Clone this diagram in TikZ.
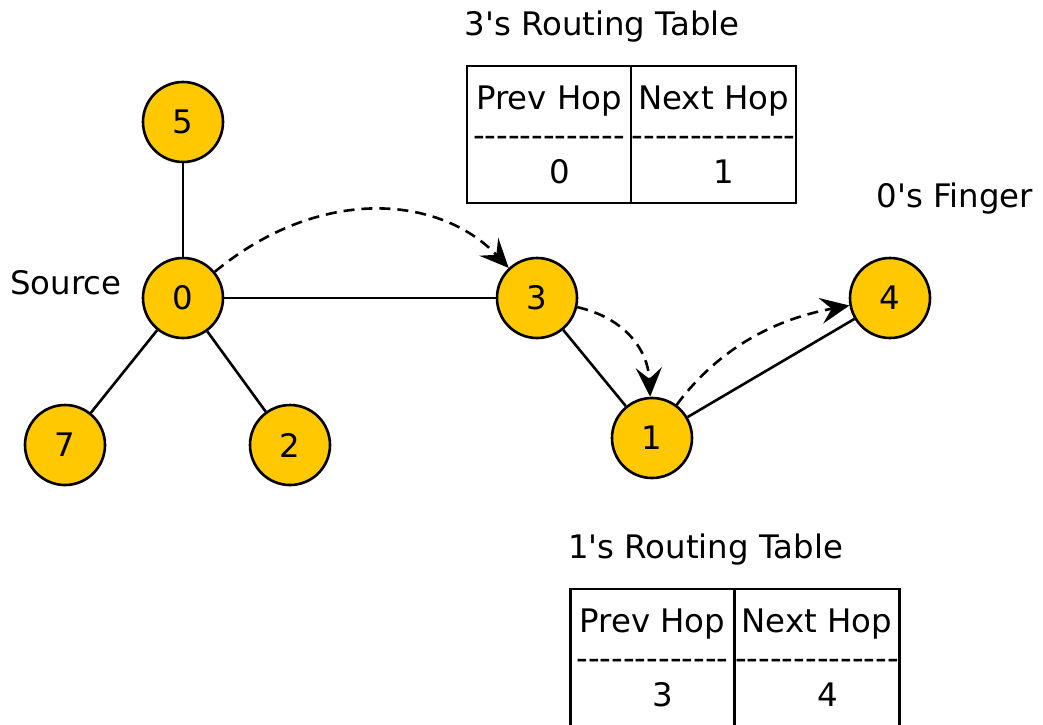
\documentclass[tikz,border=0pt]{standalone}
\usepackage{fontspec}
\setmainfont{DejaVu Sans}[Ligatures=TeXOff]
\usetikzlibrary{arrows.meta}
\definecolor{peergold}{RGB}{255,200,0}

\tikzset{
  peer/.style={circle, draw, line width=2.6pt, fill=peergold,
               minimum size=80pt, inner sep=0pt},
  link/.style={line width=2.6pt},
  route/.style={line width=2.6pt, dash pattern=on 11pt off 7pt,
                -{Stealth[length=29pt,width=26pt,inset=11pt]}},
  cell/.style={draw, line width=2.6pt, minimum width=164pt,
               minimum height=137pt, inner sep=0pt, outer sep=0pt,
               align=center},
}

\begin{document}
\begin{tikzpicture}[x=1pt, y=-1pt, font=\fontsize{32.4}{37}\selectfont]
  \useasboundingbox (0,0) rectangle (1043,724);

  % peers
  \node[peer] (n5) at (183,122) {5};
  \node[peer] (n0) at (183,298) {0};
  \node[peer] (n7) at (65,445)  {7};
  \node[peer] (n2) at (290,445) {2};
  \node[peer] (n3) at (537,298) {3};
  \node[peer] (n1) at (652,438) {1};
  \node[peer] (n4) at (890,298) {4};

  \node (source) at (66,283)  {Source};
  \node (finger) at (955,199) {0's Finger};

  % overlay links
  \draw[link] (n5) -- (n0);
  \draw[link] (n0) -- (n7);
  \draw[link] (n0) -- (n2);
  \draw[link] (n0) -- (n3);
  \draw[link] (n3) -- (n1);
  \draw[link] (n1) -- (n4);

  % path of the lookup
  \draw[route] (n0) .. controls (320,185) and (440,195) .. (n3);
  \draw[route] (n3) .. controls (625,318) and (648,350) .. (n1);
  \draw[route] (n1) .. controls (710,360) and (760,322) .. (n4);

  % routing tables
  \node (title3) at (602,27) {3's Routing Table};
  \node[cell] (t3prev) at (549,134.5)
    {Prev Hop\\-------------\\\hspace*{0.636em}0};
  \node[cell, minimum width=165pt, anchor=west] (t3next) at (t3prev.east)
    {Next Hop\\--------------\\\hspace*{0.636em}1};

  \node (title1) at (705.5,550) {1's Routing Table};
  \node[cell] (t1prev) at (652.5,657.5)
    {Prev Hop\\-------------\\\hspace*{0.636em}3};
  \node[cell, minimum width=165pt, anchor=west] (t1next) at (t1prev.east)
    {Next Hop\\--------------\\\hspace*{0.636em}4};
\end{tikzpicture}
\end{document}
